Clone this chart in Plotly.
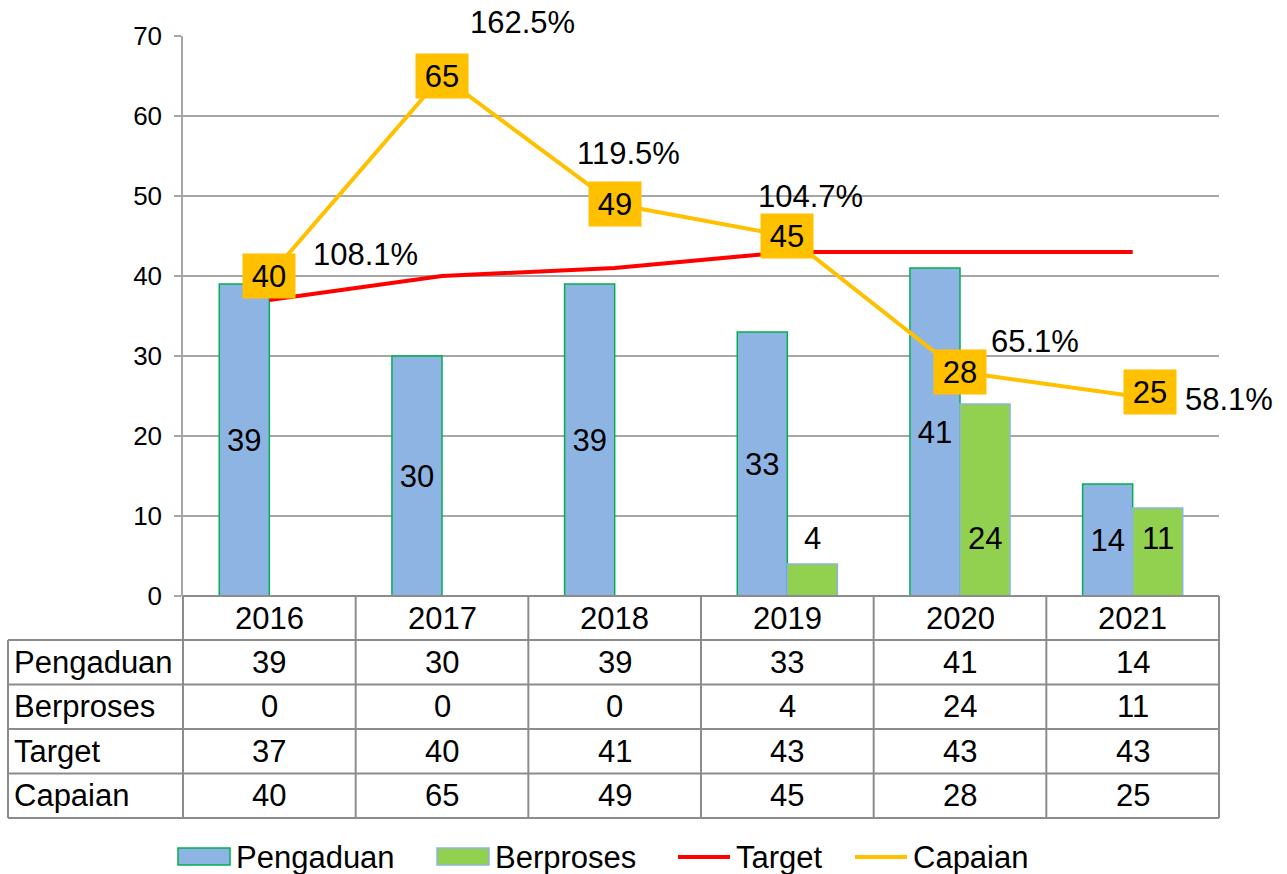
import plotly.graph_objects as go

# ---------------- data ----------------
years = ["2016", "2017", "2018", "2019", "2020", "2021"]
pengaduan = [39, 30, 39, 33, 41, 14]
berproses = [0, 0, 0, 4, 24, 11]
target = [37, 40, 41, 43, 43, 43]
capaian = [40, 65, 49, 45, 28, 25]
pct_labels = ["108.1%", "162.5%", "119.5%", "104.7%", "65.1%", "58.1%"]
row_names = ["Pengaduan", "Berproses", "Target", "Capaian"]
y_ticks = [0, 10, 20, 30, 40, 50, 60, 70]

# ---------------- style ----------------
FONT = "Liberation Sans, Arial, sans-serif"
FS = 31
C_PENG = "#8EB4E3"
C_PENG_LINE = "#00B050"
C_BERP = "#92D050"
C_BERP_LINE = "#8EB4E3"
C_TARGET = "#FF0000"
C_CAP = "#FFC000"
GRID = "#A6A6A6"
TABLE = "#8C8C8C"

W, H = 1287, 874
L, R, T, B = 183, 1219, 36, 596
PW, PH = R - L, B - T


def px(x):
    return (x - L) / PW


def py(y):
    return (B - y) / PH


# label offsets (pixels)
pct_shift = [(96, 22), (80, 54), (14, 51), (23, 40), (75, 31), (96, -3)]
box_shift = [(0, 0), (0, 0), (0, 0), (0, 0), (0, 0), (17, 4)]

fig = go.Figure()

fig.add_trace(go.Bar(
    x=years, y=pengaduan, name="Pengaduan",
    marker=dict(color=C_PENG, line=dict(color=C_PENG_LINE, width=1.5)),
    text=[str(v) for v in pengaduan], textposition="inside",
    insidetextanchor="middle", constraintext="none", textangle=0,
    textfont=dict(family=FONT, size=FS, color="black"),
))
fig.add_trace(go.Bar(
    x=years, y=berproses, name="Berproses",
    marker=dict(color=C_BERP, line=dict(color=C_BERP_LINE, width=1.5)),
))
fig.add_trace(go.Scatter(
    x=years, y=target, name="Target", mode="lines",
    line=dict(color=C_TARGET, width=4),
))
fig.add_trace(go.Scatter(
    x=years, y=capaian, name="Capaian", mode="lines",
    line=dict(color=C_CAP, width=4),
))

annotations = []
# Capaian value boxes
for k, (v, (dx, dy)) in enumerate(zip(capaian, box_shift)):
    annotations.append(dict(
        x=k, y=v, xref="x", yref="y", text=str(v), showarrow=False,
        bgcolor=C_CAP, width=52, height=44, borderpad=0,
        xshift=dx, yshift=dy,
        font=dict(family=FONT, size=FS, color="black"),
    ))
# Percent labels
for k, (v, lab, (dx, dy)) in enumerate(zip(capaian, pct_labels, pct_shift)):
    annotations.append(dict(
        x=k, y=v, xref="x", yref="y", text=lab, showarrow=False,
        xshift=dx, yshift=dy,
        font=dict(family=FONT, size=FS, color="black"),
    ))
# Berproses labels
for k, v in enumerate(berproses):
    if v:
        annotations.append(dict(
            x=k, y=0, xref="x", yref="y", text=str(v), showarrow=False,
            xshift=25, yshift=58,
            font=dict(family=FONT, size=FS, color="black"),
        ))

# ---------------- data table ----------------
rows_y = [596, 640, 684.5, 729, 773.5, 818]
cat_w = PW / len(years)
shapes = []
lw = 2
# horizontal lines
shapes.append(dict(type="line", xref="paper", yref="paper",
                   x0=px(L), x1=px(R), y0=py(rows_y[0]), y1=py(rows_y[0]),
                   line=dict(color=TABLE, width=lw)))
for ry in rows_y[1:]:
    shapes.append(dict(type="line", xref="paper", yref="paper",
                       x0=px(8), x1=px(R), y0=py(ry), y1=py(ry),
                       line=dict(color=TABLE, width=lw)))
# vertical lines
shapes.append(dict(type="line", xref="paper", yref="paper",
                   x0=px(8), x1=px(8), y0=py(rows_y[1]), y1=py(rows_y[-1]),
                   line=dict(color=TABLE, width=lw)))
for k in range(len(years) + 1):
    xx = L + k * cat_w
    shapes.append(dict(type="line", xref="paper", yref="paper",
                       x0=px(xx), x1=px(xx), y0=py(rows_y[0]), y1=py(rows_y[-1]),
                       line=dict(color=TABLE, width=lw)))

# header (years)
for k, yr in enumerate(years):
    annotations.append(dict(
        x=px(L + (k + 0.5) * cat_w), y=py((rows_y[0] + rows_y[1]) / 2),
        xref="paper", yref="paper", text=yr, showarrow=False,
        xanchor="center", yanchor="middle",
        font=dict(family=FONT, size=FS, color="black"),
    ))
table_vals = [pengaduan, berproses, target, capaian]
for r, (name, vals) in enumerate(zip(row_names, table_vals)):
    yc = py((rows_y[r + 1] + rows_y[r + 2]) / 2)
    annotations.append(dict(
        x=px(12), y=yc, xref="paper", yref="paper", text=name,
        showarrow=False, xanchor="left", yanchor="middle",
        font=dict(family=FONT, size=FS, color="black"),
    ))
    for k, v in enumerate(vals):
        annotations.append(dict(
            x=px(L + (k + 0.5) * cat_w), y=yc, xref="paper", yref="paper",
            text=str(v), showarrow=False, xanchor="center", yanchor="middle",
            font=dict(family=FONT, size=FS, color="black"),
        ))

# ---------------- manual legend ----------------
ly = 857
legend_items = [
    ("Pengaduan", "bar", C_PENG, C_PENG_LINE, 178),
    ("Berproses", "bar", C_BERP, C_BERP_LINE, 437),
    ("Target", "line", C_TARGET, None, 678),
    ("Capaian", "line", C_CAP, None, 855),
]
for name, kind, col, lcol, x0 in legend_items:
    if kind == "bar":
        shapes.append(dict(type="rect", xref="paper", yref="paper",
                           x0=px(x0), x1=px(x0 + 52), y0=py(ly - 9), y1=py(ly + 8),
                           fillcolor=col, line=dict(color=lcol, width=1.5)))
    else:
        shapes.append(dict(type="line", xref="paper", yref="paper",
                           x0=px(x0), x1=px(x0 + 52), y0=py(ly), y1=py(ly),
                           line=dict(color=col, width=4)))
    annotations.append(dict(
        x=px(x0 + 56), y=py(ly), xref="paper", yref="paper", text=name,
        showarrow=False, xanchor="left", yanchor="middle",
        font=dict(family=FONT, size=FS, color="black"),
    ))

fig.update_layout(
    width=W, height=H,
    margin=dict(l=L, r=W - R, t=T, b=H - B, pad=0),
    paper_bgcolor="white", plot_bgcolor="white",
    barmode="group", bargap=0.42, bargroupgap=0,
    showlegend=False,
    font=dict(family=FONT, size=FS, color="black"),
    shapes=shapes, annotations=annotations,
    xaxis=dict(type="category", range=[-0.5, 5.5], showticklabels=False,
               showgrid=False, zeroline=False, showline=False, ticks=""),
    yaxis=dict(range=[0, 70], tickvals=y_ticks, showgrid=True,
               gridcolor=GRID, gridwidth=1.5, zeroline=False,
               showline=True, linecolor=GRID, linewidth=1.5,
               ticks="outside", ticklen=7, tickcolor=GRID, tickwidth=1.5,
               ticklabelstandoff=7,
               tickfont=dict(family=FONT, size=26, color="black")),
)

fig.write_html("out.html", config={"displayModeBar": False},
               post_script="document.body.style.margin='0';document.body.style.overflow='hidden';")
